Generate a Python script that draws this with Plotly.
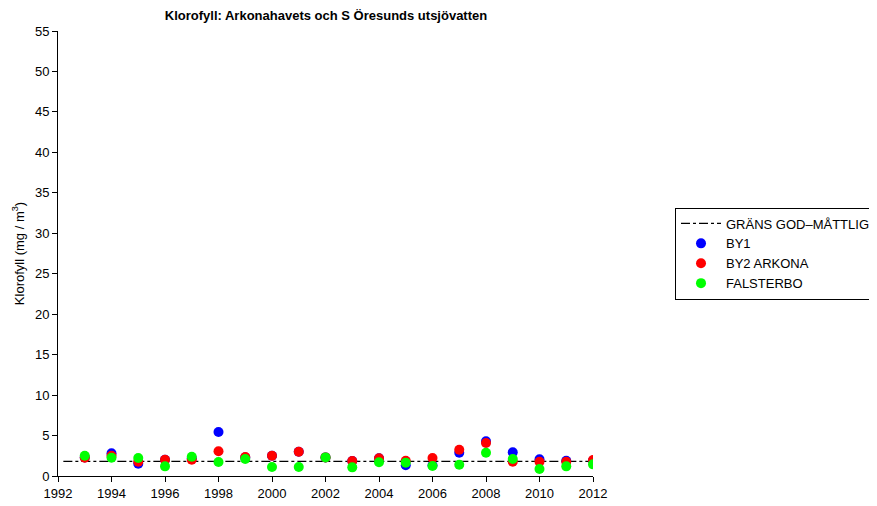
import plotly.graph_objects as go

years = list(range(1993, 2013))
by1 = [2.3, 2.8, 1.52, 2.0, 2.2, 5.43, 2.3, 2.5, 3.0, 2.3, 1.85, 2.18, 1.32, 1.32, 2.88, 4.28, 2.92, 2.06, 1.89, 1.9]
by2 = [2.26, 2.5, 1.77, 2.0, 2.0, 3.05, 2.35, 2.5, 3.0, 2.3, 1.85, 2.18, 1.89, 2.22, 3.25, 4.07, 1.77, 1.77, 1.77, 1.97]
falsterbo = [2.5, 2.26, 2.22, 1.19, 2.38, 1.73, 2.1, 1.11, 1.11, 2.3, 1.07, 1.69, 1.65, 1.23, 1.4, 2.88, 2.1, 0.86, 1.19, 1.44]
limit_x = [1992.2, 2012]
limit_y = [1.8, 1.8]

fig = go.Figure()
fig.add_trace(go.Scatter(x=limit_x, y=limit_y, mode="lines", name="GRÄNS GOD\u2013MÅTTLIG",
                         line=dict(color="black", width=1.3, dash="dashdot")))
fig.add_trace(go.Scatter(x=years, y=by1, mode="markers", name="BY1",
                         marker=dict(color="#0000FF", size=10)))
fig.add_trace(go.Scatter(x=years, y=by2, mode="markers", name="BY2 ARKONA",
                         marker=dict(color="#FF0000", size=10)))
fig.add_trace(go.Scatter(x=years, y=falsterbo, mode="markers", name="FALSTERBO",
                         marker=dict(color="#00FF00", size=10)))

# page body has an 8px margin, so the figure is offset by 8px
W, H = 869, 498
font_family = "Liberation Sans, Arial, sans-serif"
fig.update_layout(
    width=W, height=H,
    margin=dict(l=50, r=W - 50 - 535, t=23, b=H - 23 - 445, autoexpand=False),
    plot_bgcolor="white", paper_bgcolor="white",
    font=dict(family=font_family, size=13, color="black"),
    title=dict(text="<b>Klorofyll: Arkonahavets och S Öresunds utsjövatten</b>",
               x=318 / W, xanchor="center", y=1 - 7 / H, yanchor="middle",
               font=dict(size=13)),
    xaxis=dict(range=[1992, 2012], tickvals=list(range(1992, 2013, 2)),
               showgrid=False, zeroline=False, showline=True, linecolor="black",
               ticks="outside", ticklen=5, tickcolor="black", automargin=False),
    yaxis=dict(range=[0, 55], tickvals=list(range(0, 56, 5)),
               showgrid=False, zeroline=False, showline=True, linecolor="black",
               ticks="outside", ticklen=5, tickcolor="black", automargin=False,
               title=dict(text="Klorofyll (mg / m<sup>3</sup>)", standoff=7, font=dict(size=13))),
    legend=dict(x=(675 - 58) / 535, y=0.5, xanchor="left", yanchor="middle",
                bordercolor="black", borderwidth=1, bgcolor="white",
                font=dict(size=13), tracegroupgap=0, itemwidth=40),
    showlegend=True,
)
fig.write_html("out.html")
